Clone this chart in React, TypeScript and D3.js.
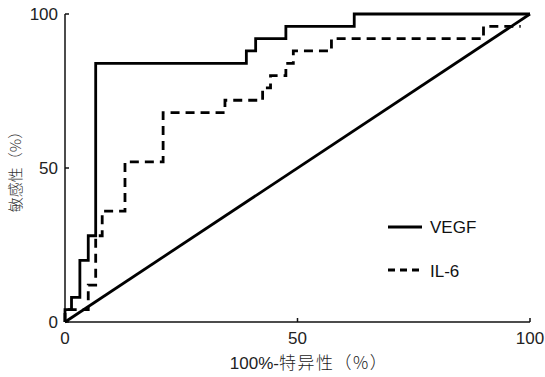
import React from 'react';
import * as d3 from 'd3';

// ROC points (100%-specificity, sensitivity)
const vegfX = [0, 0, 1.4, 3.2, 5, 6.6, 39, 41, 47.5, 62.2, 100];
const vegfY = [0, 4, 8, 20, 28, 84, 88, 92, 96, 100, 100];

const il6X = [0, 0, 5, 6.6, 8, 12.9, 21.1, 34.4, 42.5, 44.2, 47.5, 49.1, 57.3, 90, 98];
const il6Y = [0, 4, 12, 28, 36, 52, 68, 72, 76, 80, 84, 88, 92, 96, 96];

const refX = [0, 100];
const refY = [0, 100];

const ticks = [0, 50, 100];
const seriesNames = ['VEGF', 'IL-6'];

const W = 545;
const H = 377;
const latin = '"Liberation Sans", Arial, sans-serif';
const cjk = '"Noto Sans CJK SC", sans-serif';

const App = () => {
  const x = d3.scaleLinear().domain([0, 100]).range([65, 530]);
  const y = d3.scaleLinear().domain([0, 100]).range([322, 14]);

  const step = d3
    .line<[number, number]>()
    .x((d) => x(d[0]))
    .y((d) => y(d[1]))
    .curve(d3.curveStepAfter);
  const straight = d3
    .line<[number, number]>()
    .x((d) => x(d[0]))
    .y((d) => y(d[1]));

  const pts = (xs: number[], ys: number[]) => xs.map((v, i) => [v, ys[i]] as [number, number]);

  return (
    <svg width={W} height={H} style={{ position: 'absolute', left: 0, top: 0, background: '#fff' }}>
      {/* axes */}
      <g stroke="#111" strokeWidth={1.5} fill="none">
        <line x1={x(0)} x2={x(100)} y1={y(0)} y2={y(0)} />
        <line x1={x(0)} x2={x(0)} y1={y(0)} y2={y(100)} />
        {ticks.map((t) => (
          <line key={'xt' + t} x1={x(t)} x2={x(t)} y1={y(0)} y2={y(0) - 4} />
        ))}
        {ticks.map((t) => (
          <line key={'yt' + t} x1={x(0)} x2={x(0) + 4} y1={y(t)} y2={y(t)} />
        ))}
      </g>
      <g fontFamily={latin} fontSize={17} fill="#222">
        {ticks.map((t) => (
          <text key={'xl' + t} x={x(t)} y={344} textAnchor="middle">
            {t}
          </text>
        ))}
        {ticks.map((t) => (
          <text key={'yl' + t} x={58} y={y(t) + 6} textAnchor="end">
            {t}
          </text>
        ))}
      </g>
      <text x={309} y={369} textAnchor="middle" fontSize={17} fill="#222">
        <tspan fontFamily={latin}>100%-</tspan>
        <tspan fontFamily={cjk} fontWeight={300} letterSpacing={1.5}>
          特异性（%）
        </tspan>
      </text>
      <text
        transform={`translate(21,168) rotate(-90)`}
        textAnchor="middle"
        fontFamily={cjk}
        fontWeight={300}
        fontSize={15}
        fill="#333"
      >
        敏感性（%）
      </text>

      {/* curves */}
      <path d={straight(pts(refX, refY)) || ''} fill="none" stroke="#000" strokeWidth={2.8} />
      <path d={step(pts(il6X, il6Y)) || ''} fill="none" stroke="#000" strokeWidth={2.8} strokeDasharray="9,6" />
      <path d={step(pts(vegfX, vegfY)) || ''} fill="none" stroke="#000" strokeWidth={2.8} />

      {/* legend */}
      <g fontFamily={latin} fontSize={17} fill="#111">
        <line x1={388} x2={422} y1={227} y2={227} stroke="#000" strokeWidth={2.8} />
        <text x={430} y={233}>{seriesNames[0]}</text>
        <line x1={388} x2={422} y1={270} y2={270} stroke="#000" strokeWidth={2.8} strokeDasharray="7,5" />
        <text x={430} y={277}>{seriesNames[1]}</text>
      </g>
    </svg>
  );
};

export default App;
